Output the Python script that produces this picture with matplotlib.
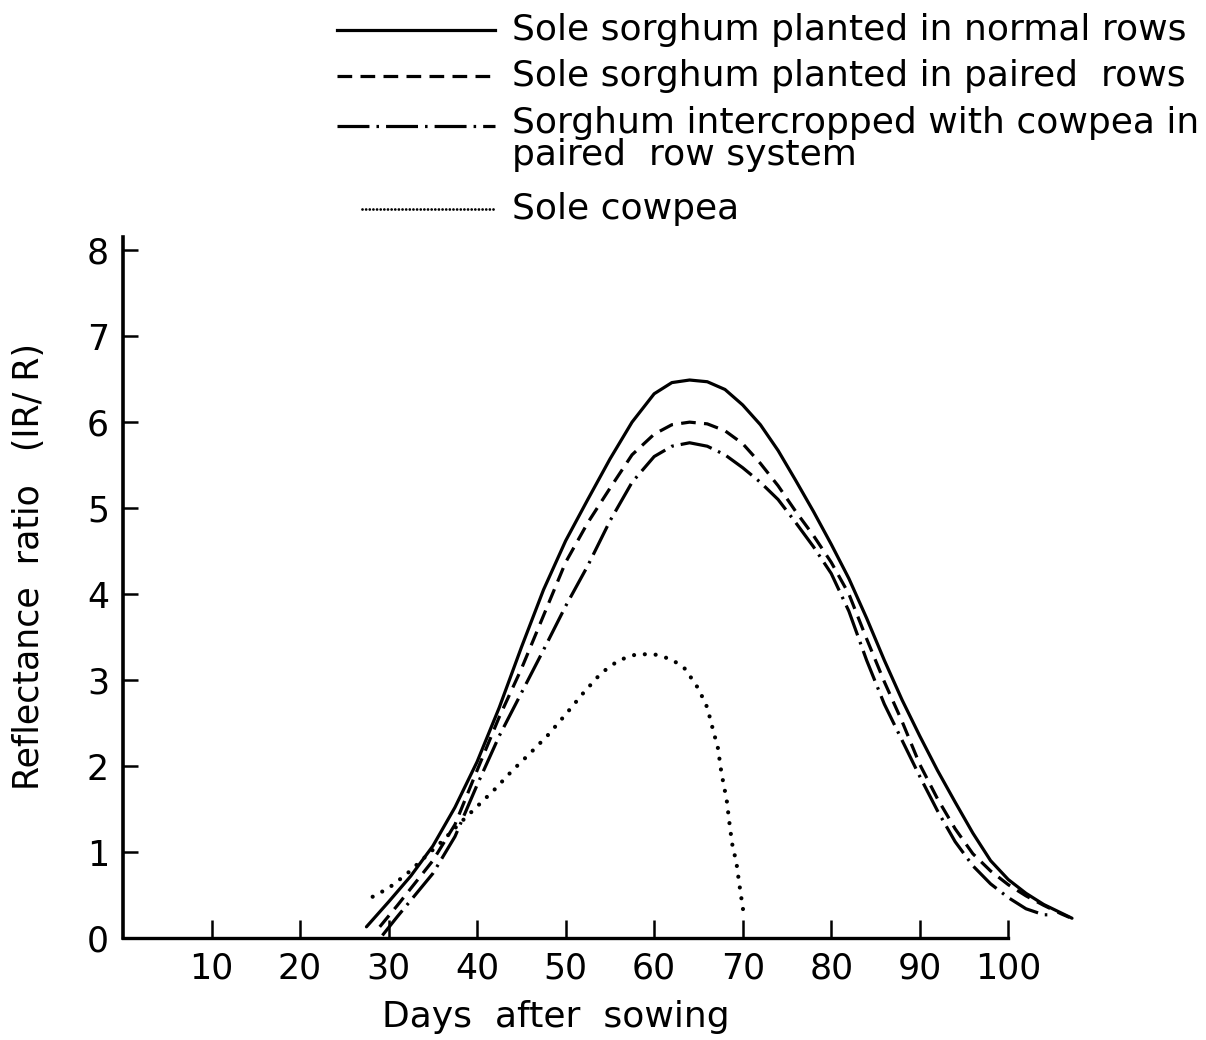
import matplotlib
matplotlib.use("Agg")
import matplotlib.pyplot as plt
from matplotlib.lines import Line2D

plt.rcParams['font.family'] = ['DejaVu Sans']

# ---- data ----
normal_x = [27.5, 30, 32.5, 35, 37.5, 40, 42.5, 45, 47.5, 50, 52.5, 55, 57.5, 60, 62, 64, 66,
            68, 70, 72, 74, 76, 78, 80, 82, 84, 86, 88, 90, 92, 94, 96, 98, 100, 102, 104,
            106, 107.2]
normal_y = [0.13, 0.42, 0.72, 1.07, 1.52, 2.05, 2.68, 3.38, 4.05, 4.62, 5.10, 5.57, 6.00,
            6.33, 6.46, 6.49, 6.47, 6.38, 6.20, 5.97, 5.67, 5.32, 4.96, 4.58, 4.18, 3.72,
            3.23, 2.77, 2.35, 1.95, 1.58, 1.22, 0.90, 0.68, 0.52, 0.39, 0.29, 0.23]

paired_x = [29, 31, 33, 35, 37.5, 40, 42.5, 45, 47.5, 50, 52.5, 55, 57.5, 60, 62, 64, 66,
            68, 70, 72, 74, 76, 78, 80, 82, 84, 86, 88, 90, 92, 94, 96, 98, 100, 102, 104,
            106, 106.9]
paired_y = [0.13, 0.38, 0.64, 0.90, 1.32, 1.95, 2.57, 3.13, 3.75, 4.37, 4.83, 5.23, 5.62,
            5.86, 5.97, 6.00, 5.98, 5.90, 5.75, 5.52, 5.26, 4.96, 4.68, 4.37, 4.00, 3.48,
            2.98, 2.52, 2.02, 1.62, 1.27, 0.98, 0.78, 0.62, 0.49, 0.38, 0.28, 0.24]

inter_x = [29.3, 31, 33, 35, 37.5, 40, 42.5, 45, 47.5, 50, 52.5, 55, 57.5, 60, 62, 64, 66,
           68, 70, 72, 74, 76, 78, 80, 82, 84, 86, 88, 90, 92, 94, 96, 98, 100, 102, 104,
           104.6]
inter_y = [0.03, 0.25, 0.50, 0.75, 1.18, 1.78, 2.35, 2.85, 3.35, 3.86, 4.33, 4.85, 5.30,
           5.60, 5.72, 5.76, 5.72, 5.62, 5.47, 5.30, 5.10, 4.83, 4.55, 4.24, 3.80, 3.23,
           2.72, 2.30, 1.88, 1.48, 1.12, 0.84, 0.63, 0.47, 0.34, 0.27, 0.27]

cowpea_x = [28.2, 30, 32, 34, 36, 38, 40, 42, 44, 46, 48, 50, 52, 54, 56, 58, 60, 62, 63.5,
            65, 66, 66.6, 67.2, 67.6, 68.2, 68.5, 68.8, 69.3, 69.6, 70.1]
cowpea_y = [0.48, 0.58, 0.74, 0.93, 1.12, 1.33, 1.53, 1.73, 1.95, 2.15, 2.36, 2.60, 2.85,
            3.08, 3.23, 3.30, 3.30, 3.24, 3.13, 2.90, 2.68, 2.44, 2.21, 1.92, 1.60, 1.34,
            1.10, 0.87, 0.64, 0.29]

labels = ["Sole sorghum planted in normal rows",
          "Sole sorghum planted in paired  rows",
          "Sorghum intercropped with cowpea in\npaired  row system",
          "Sole cowpea"]

x_ticks = [10, 20, 30, 40, 50, 60, 70, 80, 90, 100]
y_ticks = [0, 1, 2, 3, 4, 5, 6, 7, 8]

# ---- figure ----
W, H = 1206, 1040
fig = plt.figure(figsize=(W / 100, H / 100), dpi=100)
ax = fig.add_axes([123 / W, (H - 938) / H, 973.8 / W, 705 / H])
ax.set_xlim(0, 110)
ax.set_ylim(0, 8.2)

lw = 2.3
styles = [
    dict(linestyle='-'),
    dict(linestyle=(0, (4.6, 2.6))),
    dict(linestyle=(0, (10, 2.2, 0.8, 2.2))),
    dict(linestyle=(0, (0.01, 2.6)), dash_capstyle='round', lw=3.0),
]
series = [(normal_x, normal_y), (paired_x, paired_y), (inter_x, inter_y), (cowpea_x, cowpea_y)]
for (xs, ys), st in zip(series, styles):
    kw = dict(color='black', lw=lw)
    kw.update(st)
    ax.plot(xs, ys, solid_capstyle='round', **kw)

for s in ['top', 'right']:
    ax.spines[s].set_visible(False)
ax.spines['left'].set_bounds(0, 8.15)
ax.spines['bottom'].set_bounds(0, 100)
ax.spines['left'].set_linewidth(2.6)
ax.spines['bottom'].set_linewidth(2.4)

fs = 25
ax.set_xticks(x_ticks)
ax.set_xticklabels([str(t) for t in x_ticks])
ax.set_yticks(y_ticks)
ax.set_yticklabels([str(t) for t in y_ticks])
ax.tick_params(axis='x', direction='in', length=13, width=1.8, pad=10, labelsize=fs)
ax.tick_params(axis='y', direction='in', length=11, width=1.8, pad=10, labelsize=fs)

ax.set_xlabel("Days  after  sowing", fontsize=fs + 1)
ax.xaxis.set_label_coords((556 - 123) / 973.8, -(1000 - 938) / 705)
ax.set_ylabel("Reflectance  ratio   (IR/ R)", fontsize=fs)
ax.yaxis.set_label_coords(-(123 - 46) / 973.8, (938 - 567) / 705)

# ---- legend (manual, figure coordinates) ----
lfs = 26
rows = [30, 76, 126, 209]
for i, (lab, st) in enumerate(zip(labels, styles)):
    yy = 1 - rows[i] / H
    x0 = 337 if i < 3 else 362
    kw = dict(color='black', lw=lw)
    kw.update(st)
    if i == 3:
        kw['linestyle'] = (0, (0.01, 1.3))
        kw['lw'] = 2.0
    fig.add_artist(Line2D([x0 / W, 495 / W], [yy, yy], transform=fig.transFigure, **kw))
    if '\n' in lab:
        fig.text(512 / W, 1 - (rows[i] - 20) / H, lab, fontsize=lfs, va='top', ha='left',
                 linespacing=0.92)
    else:
        fig.text(512 / W, yy, lab, fontsize=lfs, va='center', ha='left')

fig.savefig("out.png", dpi=100)
